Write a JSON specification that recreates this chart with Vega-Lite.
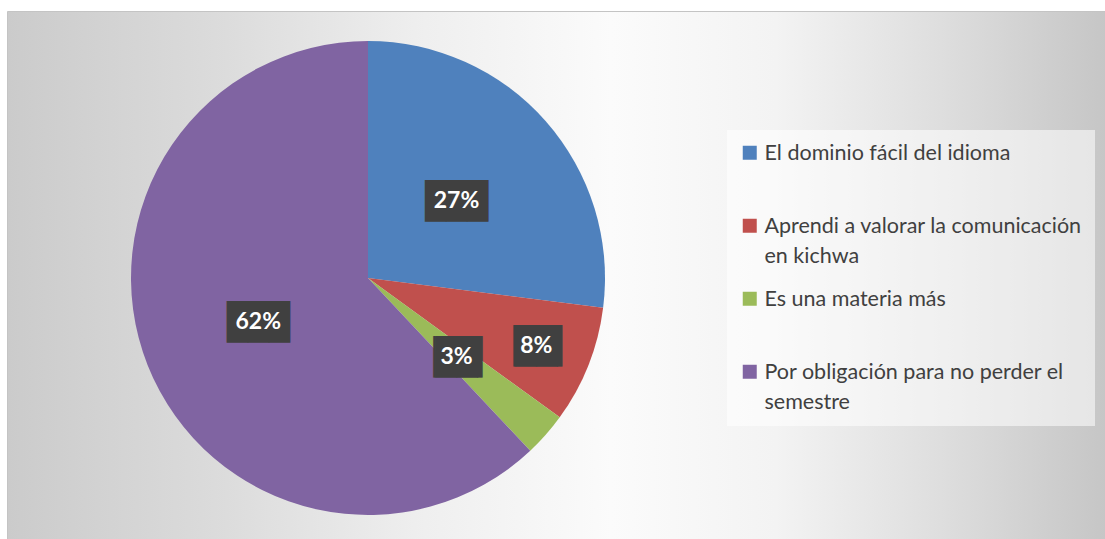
{
  "$schema": "https://vega.github.io/schema/vega-lite/v6.json",
  "width": 1098,
  "height": 528,
  "autosize": {"type": "none"},
  "padding": {"left": 7, "top": 11, "right": 0, "bottom": 0},
  "background": "#ffffff",
  "data": {
    "values": [
      {"label": "El dominio fácil del idioma", "share": 0.27, "n": 1},
      {"label": "Aprendi a valorar la comunicación en kichwa", "share": 0.08, "n": 2},
      {"label": "Es una materia más", "share": 0.03, "n": 3},
      {"label": "Por obligación para no perder el semestre", "share": 0.62, "n": 4}
    ]
  },
  "layer": [
    {
      "mark": {"type": "arc", "outerRadius": 237},
      "encoding": {
        "x": {"value": 361},
        "y": {"value": 267},
        "theta": {"field": "share", "type": "quantitative", "stack": true},
        "order": {"field": "n", "type": "quantitative"},
        "color": {
          "field": "label",
          "type": "nominal",
          "scale": {
            "domain": ["El dominio fácil del idioma", "Aprendi a valorar la comunicación en kichwa", "Es una materia más", "Por obligación para no perder el semestre"],
            "range": ["#4f81bd", "#c0504d", "#9bbb59", "#8064a2"]
          },
          "legend": {
            "orient": "none",
            "legendX": 720,
            "legendY": 119,
            "title": null,
            "symbolType": "square",
            "symbolSize": 196,
            "symbolStrokeWidth": 0,
            "symbolOffset": 0,
            "labelFont": "Lato",
            "labelFontSize": 21.5,
            "labelColor": "#404040",
            "labelLimit": 500,
            "labelOffset": 4,
            "labelBaseline": "alphabetic",
            "padding": 12,
            "fillColor": "rgba(255,255,255,0.55)",
            "gridAlign": "all",
            "rowPadding": 20,
            "labelExpr": "datum.label == 'Aprendi a valorar la comunicación en kichwa' ? ['Aprendi a valorar la comunicación', 'en kichwa'] : datum.label == 'Por obligación para no perder el semestre' ? ['Por obligación para no perder el', 'semestre'] : datum.label",
            "encode": {"labels": {"update": {"lineHeight": {"value": 30}, "dy": {"value": 7}}}}
          }
        }
      }
    },
    {
      "mark": {"type": "text", "font": "DejaVu Sans Mono", "fontSize": 35, "color": "#404040", "align": "center", "baseline": "middle", "dy": 2},
      "encoding": {
        "x": {"value": 361},
        "y": {"value": 267},
        "theta": {"field": "share", "type": "quantitative", "stack": true},
        "order": {"field": "n", "type": "quantitative"},
        "radius": {"value": {"expr": "datum.n == 2 ? 181 : 118"}},
        "text": {"value": {"expr": "datum.share < 0.1 ? '▕██▎' : '███'"}}
      }
    },
    {
      "mark": {"type": "text", "font": "Lato", "fontWeight": "bold", "fontSize": 23, "color": "#ffffff", "align": "center", "baseline": "middle", "dy": 1},
      "encoding": {
        "x": {"value": 361},
        "y": {"value": 267},
        "theta": {"field": "share", "type": "quantitative", "stack": true},
        "order": {"field": "n", "type": "quantitative"},
        "radius": {"value": {"expr": "datum.n == 2 ? 181 : 118"}},
        "text": {"field": "share", "type": "quantitative", "format": ".0%"}
      }
    }
  ],
  "config": {
    "view": {
      "stroke": "#c4c4c4",
      "fill": {
        "gradient": "linear",
        "x1": 0, "y1": 0, "x2": 1, "y2": 0,
        "stops": [
          {"offset": 0, "color": "#cbcbcb"},
          {"offset": 0.2, "color": "#dcdcdc"},
          {"offset": 0.38, "color": "#efefef"},
          {"offset": 0.55, "color": "#fbfbfb"},
          {"offset": 0.7, "color": "#f3f3f3"},
          {"offset": 0.85, "color": "#dedede"},
          {"offset": 1, "color": "#c6c6c6"}
        ]
      }
    }
  }
}
